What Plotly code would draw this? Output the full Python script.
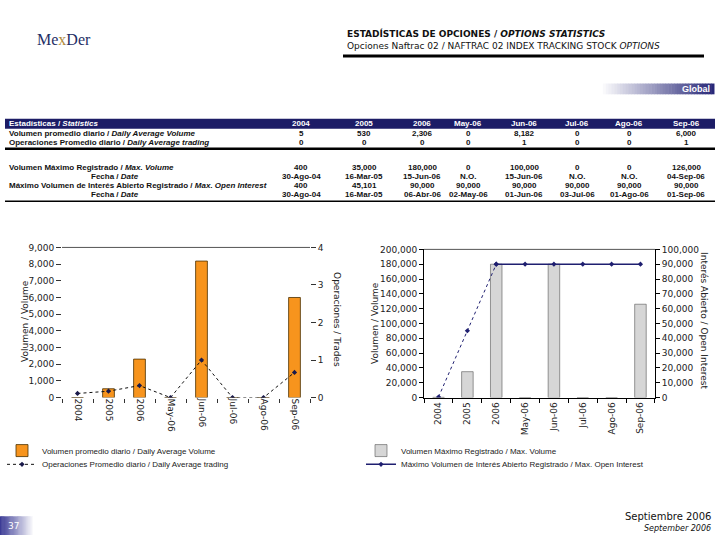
import plotly.graph_objects as go

# ---------------- data ----------------
categories = ["2004", "2005", "2006", "May-06", "Jun-06", "Jul-06", "Ago-06", "Sep-06"]
avg_volume = [5, 530, 2306, 0, 8182, 0, 0, 6000]
avg_trades = [0.11, 0.17, 0.32, 0, 1.0, 0, 0, 0.67]
max_volume = [400, 35000, 180000, 0, 180000, 0, 0, 126000]
max_open_interest = [400, 45101, 90000, 90000, 90000, 90000, 90000, 90000]

table_header = ["2004", "2005", "2006", "May-06", "Jun-06", "Jul-06", "Ago-06", "Sep-06"]
row_avg_volume = ["5", "530", "2,306", "0", "8,182", "0", "0", "6,000"]
row_avg_trades = ["0", "0", "0", "0", "1", "0", "0", "1"]
row_max_volume = ["400", "35,000", "180,000", "0", "100,000", "0", "0", "126,000"]
row_max_vol_date = ["30-Ago-04", "16-Mar-05", "15-Jun-06", "N.O.", "15-Jun-06", "N.O.", "N.O.", "04-Sep-06"]
row_max_oi = ["400", "45,101", "90,000", "90,000", "90,000", "90,000", "90,000", "90,000"]
row_max_oi_date = ["30-Ago-04", "16-Mar-05", "06-Abr-06", "02-May-06", "01-Jun-06", "03-Jul-06", "01-Ago-06", "01-Sep-06"]

W, H = 720, 540


def px(x):
    return x / W


def py(y):
    return 1 - y / H


NAVY = "#1c1c66"
ORANGE = "#f7941d"
GRAY_BAR = "#d6d6d6"
LINE_NAVY = "#1f1f70"
TXT = "#222222"

fig = go.Figure()

# left chart
fig.add_trace(go.Bar(
    x=categories, y=avg_volume, xaxis="x", yaxis="y", width=0.38,
    marker=dict(color=ORANGE, line=dict(color="#4a3000", width=0.8)),
    name="Volumen promedio diario / Daily Average Volume", legend="legend", showlegend=True))
fig.add_trace(go.Scatter(
    x=categories, y=avg_trades, xaxis="x", yaxis="y2", mode="lines+markers",
    line=dict(color="#111111", width=1, dash="dot"),
    marker=dict(symbol="diamond", size=4, color="#1a1a4a"),
    name="Operaciones Promedio diario / Daily Average trading", legend="legend2", showlegend=True))

# right chart
fig.add_trace(go.Bar(
    x=categories, y=max_volume, xaxis="x2", yaxis="y3", width=0.4,
    marker=dict(color=GRAY_BAR, line=dict(color="#555555", width=0.6)),
    name="Volumen Máximo Registrado / Max. Volume", legend="legend3", showlegend=True))
fig.add_trace(go.Scatter(
    x=categories[:3], y=max_open_interest[:3], xaxis="x2", yaxis="y4", mode="lines+markers",
    line=dict(color=LINE_NAVY, width=1, dash="dot"),
    marker=dict(symbol="diamond", size=4, color=LINE_NAVY),
    showlegend=False, legend="legend4"))
fig.add_trace(go.Scatter(
    x=categories[2:], y=max_open_interest[2:], xaxis="x2", yaxis="y4", mode="lines+markers",
    line=dict(color=LINE_NAVY, width=1.5),
    marker=dict(symbol="diamond", size=4, color=LINE_NAVY),
    name="Máximo Volumen de Interés Abierto Registrado / Max. Open Interest", legend="legend4",
    showlegend=True))

tickfont = dict(family="DejaVu Sans", size=9, color=TXT)

L_dom_x = [px(62), px(310)]
L_dom_y = [py(400), py(247)]
R_dom_x = [px(424), px(655)]
R_dom_y = [py(400), py(249)]

shapes = []
annotations = []

# ---------------- header ----------------
annotations.append(dict(
    x=px(35), y=py(35), xref="paper", yref="paper", xanchor="left", yanchor="middle",
    text="Me<span style='color:#b08a3a'>x</span>Der", showarrow=False,
    font=dict(family="Liberation Serif", size=16, color="#1f2f66")))
annotations.append(dict(
    x=px(345), y=py(29), xref="paper", yref="paper", xanchor="left", yanchor="middle",
    text="<b>ESTADÍSTICAS DE OPCIONES / <i>OPTIONS STATISTICS</i></b>", showarrow=False,
    font=dict(family="DejaVu Sans", size=9, color="#111111")))
annotations.append(dict(
    x=px(345), y=py(42), xref="paper", yref="paper", xanchor="left", yanchor="middle",
    text="Opciones Naftrac 02 / NAFTRAC 02 INDEX TRACKING STOCK <i>OPTIONS</i>", showarrow=False,
    font=dict(family="DejaVu Sans", size=9, color="#111111")))
shapes.append(dict(type="line", xref="paper", yref="paper", x0=px(343), x1=px(704),
                   y0=py(52), y1=py(52), line=dict(color="#000000", width=3)))

# "Global" gradient bar
n = 40
gx0, gx1 = 600, 714
for i in range(n):
    t = i / (n - 1)
    r = int(255 + (40 - 255) * t)
    g = int(255 + (40 - 255) * t)
    b = int(255 + (120 - 255) * t)
    shapes.append(dict(type="rect", xref="paper", yref="paper",
                       x0=px(gx0 + (gx1 - gx0) * i / n), x1=px(gx0 + (gx1 - gx0) * (i + 1) / n + 0.5),
                       y0=py(91), y1=py(80), line=dict(width=0), fillcolor=f"rgb({r},{g},{b})"))
annotations.append(dict(
    x=px(712), y=py(85.5), xref="paper", yref="paper", xanchor="right", yanchor="middle",
    text="<b>Global</b>", showarrow=False, font=dict(family="Liberation Sans", size=9, color="white")))

# ---------------- table ----------------
col_x = [301, 364, 422, 468, 524, 577, 629, 686]
shapes.append(dict(type="rect", xref="paper", yref="paper", x0=px(5), x1=px(715),
                   y0=py(126), y1=py(116), line=dict(width=0), fillcolor=NAVY))
tfont = dict(family="Liberation Sans", size=8, color="#111111")
hfont = dict(family="Liberation Sans", size=8, color="white")
annotations.append(dict(x=px(7), y=py(121), xref="paper", yref="paper", xanchor="left", yanchor="middle",
                        text="<b>Estadísticas / <i>Statistics</i></b>", showarrow=False, font=hfont))
for cx, h in zip(col_x, table_header):
    annotations.append(dict(x=px(cx), y=py(121), xref="paper", yref="paper", xanchor="center",
                            yanchor="middle", text=f"<b>{h}</b>", showarrow=False, font=hfont))

rows = [
    ("Volumen promedio diario / <i>Daily Average Volume</i>", "left", row_avg_volume, 131),
    ("Operaciones Promedio diario / <i>Daily Average trading</i>", "left", row_avg_trades, 140),
    ("Volumen Máximo Registrado / <i>Max. Volume</i>", "left", row_max_volume, 166),
    ("Fecha / <i>Date</i>", "center", row_max_vol_date, 175),
    ("Máximo Volumen de Interés Abierto Registrado / <i>Max. Open Interest</i>", "left", row_max_oi, 184),
    ("Fecha / <i>Date</i>", "center", row_max_oi_date, 193),
]
for label, align, vals, ry in rows:
    if align == "left":
        annotations.append(dict(x=px(7), y=py(ry), xref="paper", yref="paper", xanchor="left",
                                yanchor="middle", text=f"<b>{label}</b>", showarrow=False, font=tfont))
    else:
        annotations.append(dict(x=px(115), y=py(ry), xref="paper", yref="paper", xanchor="center",
                                yanchor="middle", text=f"<b>{label}</b>", showarrow=False, font=tfont))
    for cx, v in zip(col_x, vals):
        annotations.append(dict(x=px(cx), y=py(ry), xref="paper", yref="paper", xanchor="center",
                                yanchor="middle", text=f"<b>{v}</b>", showarrow=False, font=tfont))
shapes.append(dict(type="line", xref="paper", yref="paper", x0=px(5), x1=px(715),
                   y0=py(146.5), y1=py(146.5), line=dict(color="#000000", width=2.5)))
shapes.append(dict(type="line", xref="paper", yref="paper", x0=px(5), x1=px(715),
                   y0=py(200), y1=py(200), line=dict(color="#000000", width=1.5)))

# ---------------- chart frame lines ----------------
shapes.append(dict(type="line", xref="x domain", yref="y domain", x0=0, x1=1, y0=1, y1=1,
                   line=dict(color="#555555", width=1)))
shapes.append(dict(type="line", xref="x2 domain", yref="y3 domain", x0=0, x1=1, y0=1, y1=1,
                   line=dict(color="#555555", width=1)))

# axis titles
atfont = dict(family="DejaVu Sans", size=9, color=TXT)
annotations += [
    dict(x=px(18), y=py(322), xref="paper", yref="paper", text="Volumen / Volume", textangle=-90,
         showarrow=False, font=atfont),
    dict(x=px(337), y=py(320), xref="paper", yref="paper", text="Operaciones / Trades", textangle=90,
         showarrow=False, font=atfont),
    dict(x=px(375), y=py(324), xref="paper", yref="paper", text="Volumen / Volume", textangle=-90,
         showarrow=False, font=atfont),
    dict(x=px(711), y=py(321), xref="paper", yref="paper", text="Interés Abierto / Open Interest",
         textangle=90, showarrow=False, font=atfont),
]

# ---------------- footer ----------------
n = 30
for i in range(n):
    t = i / (n - 1)
    r = int(60 + (255 - 60) * t)
    g = int(60 + (255 - 60) * t)
    b = int(150 + (255 - 150) * t)
    shapes.append(dict(type="rect", xref="paper", yref="paper",
                       x0=px(34 * i / n), x1=px(34 * (i + 1) / n + 0.5),
                       y0=py(540), y1=py(521), line=dict(width=0), fillcolor=f"rgb({r},{g},{b})"))
annotations.append(dict(x=px(6), y=py(531), xref="paper", yref="paper", xanchor="left", yanchor="middle",
                        text="37", showarrow=False, font=dict(family="DejaVu Sans", size=9, color="white")))
annotations.append(dict(x=px(713), y=py(521), xref="paper", yref="paper", xanchor="right", yanchor="middle",
                        text="Septiembre 2006", showarrow=False,
                        font=dict(family="DejaVu Sans", size=10, color="#111111")))
annotations.append(dict(x=px(713), y=py(533), xref="paper", yref="paper", xanchor="right", yanchor="middle",
                        text="<i>September 2006</i>", showarrow=False,
                        font=dict(family="DejaVu Sans", size=8, color="#111111")))

legfont = dict(family="Liberation Sans", size=8, color=TXT)


def leg(x, y):
    return dict(x=px(x), y=py(y), xanchor="left", yanchor="middle", orientation="v",
                font=legfont, bgcolor="rgba(0,0,0,0)", tracegroupgap=0, itemwidth=30,
                visible=True)


fig.update_layout(
    width=W, height=H, margin=dict(l=0, r=0, t=0, b=0),
    paper_bgcolor="white", plot_bgcolor="white",
    font=dict(family="DejaVu Sans", size=9, color=TXT),
    showlegend=True,
    bargap=0.6,
    xaxis=dict(domain=L_dom_x, anchor="y", type="category", categoryorder="array",
               categoryarray=categories, tickangle=90, tickfont=tickfont, showline=False,
               showgrid=False, zeroline=False, ticks="outside", tickson="boundaries",
               ticklen=4, tickcolor="#333333"),
    yaxis=dict(domain=L_dom_y, anchor="x", range=[0, 9000], dtick=1000, tickformat=",",
               tickfont=tickfont, showgrid=False, zeroline=False, showline=False,
               ticks="outside", ticklen=5, tickcolor="#333333"),
    yaxis2=dict(overlaying="y", anchor="x", side="right", range=[0, 4], dtick=1,
                tickfont=tickfont, showgrid=False, zeroline=False, showline=False,
                ticks="outside", ticklen=5, tickcolor="#333333"),
    xaxis2=dict(domain=R_dom_x, anchor="y3", type="category", categoryorder="array",
                categoryarray=categories, tickangle=-90, tickfont=tickfont, showline=True,
                linecolor="#000000", linewidth=1, showgrid=False, zeroline=False,
                ticks="outside", tickson="boundaries", ticklen=4, tickcolor="#000000"),
    yaxis3=dict(domain=R_dom_y, anchor="x2", range=[0, 200000], dtick=20000, tickformat=",",
                tickfont=tickfont, showgrid=False, zeroline=False, showline=True,
                linecolor="#000000", linewidth=1, ticks="outside", ticklen=4, tickcolor="#000000"),
    yaxis4=dict(overlaying="y3", anchor="x2", side="right", range=[0, 100000], dtick=10000,
                tickformat=",", tickfont=tickfont, showgrid=False, zeroline=False, showline=True,
                linecolor="#000000", linewidth=1, ticks="outside", ticklen=4, tickcolor="#000000"),
    legend=leg(2, 454),
    legend2=leg(2, 468),
    legend3=leg(361, 454),
    legend4=leg(361, 468),
    shapes=shapes, annotations=annotations,
)

fig.write_html(
    "out.html",
    config={"displayModeBar": False},
    post_script="document.body.style.margin='0';document.body.style.padding='0';"
                "document.body.style.overflow='hidden';"
                "document.documentElement.style.overflow='hidden';",
)
